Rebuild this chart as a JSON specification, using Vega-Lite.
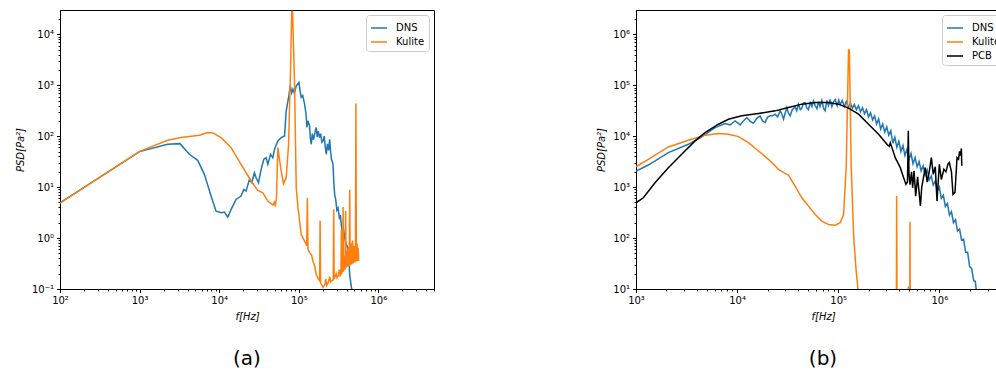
{
  "$schema": "https://vega.github.io/schema/vega-lite/v6.json",
  "padding": {"left": 14, "top": 9, "right": 0, "bottom": 0},
  "background": "white",
  "config": {
    "font": "DejaVu Sans",
    "view": {"stroke": "#000", "strokeWidth": 1},
    "axis": {"grid": false, "labelFont": "DejaVu Sans", "labelFontSize": 10, "labelColor": "#000", "tickColor": "#000", "domainColor": "#000", "titleFont": "DejaVu Sans", "titleFontSize": 10, "titleFontWeight": "normal", "titleFontStyle": "italic", "titleColor": "#000", "labelFlush": false, "labelOverlap": false, "labelBound": false, "labelPadding": 3, "titlePadding": 6},
    "legend": {"orient": "top-right", "offset": 5, "strokeColor": "#ccc", "fillColor": "white", "cornerRadius": 3, "padding": 4, "labelFontSize": 10, "labelFont": "DejaVu Sans", "labelColor": "#000", "symbolType": "stroke", "symbolStrokeWidth": 1.5, "symbolSize": 256, "rowPadding": 0, "labelOffset": 8},
    "title": {"font": "DejaVu Sans", "fontSize": 20, "fontWeight": "normal", "color": "#000"}
  },
  "datasets": {
    "a": [
      {"series": "DNS", "f": 100, "psd": 4.93},
      {"series": "DNS", "f": 1000, "psd": 49.8},
      {"series": "DNS", "f": 2249, "psd": 69.3},
      {"series": "DNS", "f": 3214, "psd": 71.4},
      {"series": "DNS", "f": 4217, "psd": 44.1},
      {"series": "DNS", "f": 5370, "psd": 33.6},
      {"series": "DNS", "f": 6516, "psd": 17.8},
      {"series": "DNS", "f": 7907, "psd": 6.67},
      {"series": "DNS", "f": 9141, "psd": 3.38},
      {"series": "DNS", "f": 10570, "psd": 3.13},
      {"series": "DNS", "f": 11640, "psd": 3.23},
      {"series": "DNS", "f": 12820, "psd": 2.58},
      {"series": "DNS", "f": 14130, "psd": 3.65},
      {"series": "DNS", "f": 16290, "psd": 5.74},
      {"series": "DNS", "f": 18840, "psd": 6.67},
      {"series": "DNS", "f": 20370, "psd": 9.02},
      {"series": "DNS", "f": 21780, "psd": 8.37},
      {"series": "DNS", "f": 23990, "psd": 14.2},
      {"series": "DNS", "f": 25650, "psd": 12.2},
      {"series": "DNS", "f": 27730, "psd": 19.2},
      {"series": "DNS", "f": 29110, "psd": 15.3},
      {"series": "DNS", "f": 31190, "psd": 12.2},
      {"series": "DNS", "f": 33650, "psd": 22.3},
      {"series": "DNS", "f": 36390, "psd": 35.2},
      {"series": "DNS", "f": 38900, "psd": 37.9},
      {"series": "DNS", "f": 40830, "psd": 28.0},
      {"series": "DNS", "f": 44160, "psd": 44.1},
      {"series": "DNS", "f": 47210, "psd": 37.9},
      {"series": "DNS", "f": 49550, "psd": 55.3},
      {"series": "DNS", "f": 54580, "psd": 80.7},
      {"series": "DNS", "f": 60120, "psd": 93.8},
      {"series": "DNS", "f": 66220, "psd": 101},
      {"series": "DNS", "f": 69500, "psd": 314},
      {"series": "DNS", "f": 74470, "psd": 575},
      {"series": "DNS", "f": 78160, "psd": 977},
      {"series": "DNS", "f": 81280, "psd": 708},
      {"series": "DNS", "f": 84330, "psd": 839},
      {"series": "DNS", "f": 88100, "psd": 692},
      {"series": "DNS", "f": 92900, "psd": 977},
      {"series": "DNS", "f": 100500, "psd": 1135},
      {"series": "DNS", "f": 103500, "psd": 794},
      {"series": "DNS", "f": 107400, "psd": 575},
      {"series": "DNS", "f": 112200, "psd": 631},
      {"series": "DNS", "f": 118300, "psd": 426},
      {"series": "DNS", "f": 123000, "psd": 282},
      {"series": "DNS", "f": 126500, "psd": 148},
      {"series": "DNS", "f": 130300, "psd": 200},
      {"series": "DNS", "f": 136800, "psd": 159},
      {"series": "DNS", "f": 140000, "psd": 89.1},
      {"series": "DNS", "f": 143600, "psd": 69.3},
      {"series": "DNS", "f": 147900, "psd": 112},
      {"series": "DNS", "f": 153100, "psd": 85.1},
      {"series": "DNS", "f": 158100, "psd": 109},
      {"series": "DNS", "f": 162200, "psd": 132},
      {"series": "DNS", "f": 166000, "psd": 148},
      {"series": "DNS", "f": 170600, "psd": 95.5},
      {"series": "DNS", "f": 175800, "psd": 126},
      {"series": "DNS", "f": 182800, "psd": 93.8},
      {"series": "DNS", "f": 188400, "psd": 112},
      {"series": "DNS", "f": 195000, "psd": 75.9},
      {"series": "DNS", "f": 201400, "psd": 80.7},
      {"series": "DNS", "f": 208900, "psd": 100},
      {"series": "DNS", "f": 215300, "psd": 60.3},
      {"series": "DNS", "f": 221800, "psd": 44.1},
      {"series": "DNS", "f": 229100, "psd": 70.8},
      {"series": "DNS", "f": 237100, "psd": 52.5},
      {"series": "DNS", "f": 244300, "psd": 87.1},
      {"series": "DNS", "f": 251200, "psd": 50.1},
      {"series": "DNS", "f": 257000, "psd": 35.5},
      {"series": "DNS", "f": 269200, "psd": 28.0},
      {"series": "DNS", "f": 275400, "psd": 12.6},
      {"series": "DNS", "f": 282500, "psd": 7.19},
      {"series": "DNS", "f": 291700, "psd": 5.62},
      {"series": "DNS", "f": 300600, "psd": 3.55},
      {"series": "DNS", "f": 311200, "psd": 3.93},
      {"series": "DNS", "f": 323600, "psd": 2.51},
      {"series": "DNS", "f": 333400, "psd": 2.82},
      {"series": "DNS", "f": 342800, "psd": 1.78},
      {"series": "DNS", "f": 354800, "psd": 1.26},
      {"series": "DNS", "f": 367300, "psd": 1.41},
      {"series": "DNS", "f": 377600, "psd": 1.01},
      {"series": "DNS", "f": 389000, "psd": 0.794},
      {"series": "DNS", "f": 402700, "psd": 0.708},
      {"series": "DNS", "f": 415900, "psd": 0.641},
      {"series": "DNS", "f": 426600, "psd": 0.355},
      {"series": "DNS", "f": 436500, "psd": 0.191},
      {"series": "DNS", "f": 451900, "psd": 0.126},
      {"series": "DNS", "f": 466700, "psd": 0.0891},
      {"series": "DNS", "f": 489800, "psd": 0.0316},
      {"series": "Kulite", "f": 100, "psd": 4.85},
      {"series": "Kulite", "f": 1000, "psd": 50.5},
      {"series": "Kulite", "f": 2249, "psd": 83.2},
      {"series": "Kulite", "f": 3311, "psd": 93.8},
      {"series": "Kulite", "f": 5636, "psd": 104},
      {"series": "Kulite", "f": 7178, "psd": 118},
      {"series": "Kulite", "f": 8299, "psd": 116},
      {"series": "Kulite", "f": 10570, "psd": 93.8},
      {"series": "Kulite", "f": 14130, "psd": 59.7},
      {"series": "Kulite", "f": 18840, "psd": 28.0},
      {"series": "Kulite", "f": 25180, "psd": 13.2},
      {"series": "Kulite", "f": 30550, "psd": 8.63},
      {"series": "Kulite", "f": 35320, "psd": 7.76},
      {"series": "Kulite", "f": 40830, "psd": 5.32},
      {"series": "Kulite", "f": 47210, "psd": 4.44},
      {"series": "Kulite", "f": 49550, "psd": 5.08},
      {"series": "Kulite", "f": 50700, "psd": 4.17},
      {"series": "Kulite", "f": 52480, "psd": 6.18},
      {"series": "Kulite", "f": 54580, "psd": 59.7},
      {"series": "Kulite", "f": 60120, "psd": 20.7},
      {"series": "Kulite", "f": 64270, "psd": 11.7},
      {"series": "Kulite", "f": 69500, "psd": 15.3},
      {"series": "Kulite", "f": 74470, "psd": 69.3},
      {"series": "Kulite", "f": 78890, "psd": 2239},
      {"series": "Kulite", "f": 81660, "psd": 28180},
      {"series": "Kulite", "f": 83560, "psd": 28180},
      {"series": "Kulite", "f": 88510, "psd": 1047},
      {"series": "Kulite", "f": 92900, "psd": 9.73},
      {"series": "Kulite", "f": 97700, "psd": 3.98},
      {"series": "Kulite", "f": 107400, "psd": 1.175},
      {"series": "Kulite", "f": 118300, "psd": 0.871},
      {"series": "Kulite", "f": 125900, "psd": 0.708},
      {"series": "Kulite", "f": 128200, "psd": 6.17},
      {"series": "Kulite", "f": 130600, "psd": 0.603},
      {"series": "Kulite", "f": 136800, "psd": 0.513},
      {"series": "Kulite", "f": 144500, "psd": 0.468},
      {"series": "Kulite", "f": 151000, "psd": 0.351},
      {"series": "Kulite", "f": 158500, "psd": 0.282},
      {"series": "Kulite", "f": 166000, "psd": 0.192},
      {"series": "Kulite", "f": 175800, "psd": 0.158},
      {"series": "Kulite", "f": 182800, "psd": 0.145},
      {"series": "Kulite", "f": 185400, "psd": 2.21},
      {"series": "Kulite", "f": 187900, "psd": 0.132},
      {"series": "Kulite", "f": 201800, "psd": 0.108},
      {"series": "Kulite", "f": 213800, "psd": 0.126},
      {"series": "Kulite", "f": 218800, "psd": 0.158},
      {"series": "Kulite", "f": 223900, "psd": 0.117},
      {"series": "Kulite", "f": 233300, "psd": 0.132},
      {"series": "Kulite", "f": 245500, "psd": 0.174},
      {"series": "Kulite", "f": 251200, "psd": 0.138},
      {"series": "Kulite", "f": 266100, "psd": 0.151},
      {"series": "Kulite", "f": 271000, "psd": 0.151},
      {"series": "Kulite", "f": 274800, "psd": 3.66},
      {"series": "Kulite", "f": 278600, "psd": 0.158},
      {"series": "Kulite", "f": 295100, "psd": 0.2},
      {"series": "Kulite", "f": 302000, "psd": 0.166},
      {"series": "Kulite", "f": 311900, "psd": 0.178},
      {"series": "Kulite", "f": 323600, "psd": 0.24},
      {"series": "Kulite", "f": 331100, "psd": 0.182},
      {"series": "Kulite", "f": 338800, "psd": 0.19},
      {"series": "Kulite", "f": 342800, "psd": 1.48},
      {"series": "Kulite", "f": 347500, "psd": 0.2},
      {"series": "Kulite", "f": 355600, "psd": 0.251},
      {"series": "Kulite", "f": 360600, "psd": 4.07},
      {"series": "Kulite", "f": 365600, "psd": 0.219},
      {"series": "Kulite", "f": 375800, "psd": 0.447},
      {"series": "Kulite", "f": 382800, "psd": 0.24},
      {"series": "Kulite", "f": 388200, "psd": 3.39},
      {"series": "Kulite", "f": 393600, "psd": 0.263},
      {"series": "Kulite", "f": 402700, "psd": 0.562},
      {"series": "Kulite", "f": 412100, "psd": 0.275},
      {"series": "Kulite", "f": 421700, "psd": 0.631},
      {"series": "Kulite", "f": 430500, "psd": 0.282},
      {"series": "Kulite", "f": 436500, "psd": 8.91},
      {"series": "Kulite", "f": 442600, "psd": 0.288},
      {"series": "Kulite", "f": 451900, "psd": 0.794},
      {"series": "Kulite", "f": 462400, "psd": 0.302},
      {"series": "Kulite", "f": 473200, "psd": 0.891},
      {"series": "Kulite", "f": 484200, "psd": 0.316},
      {"series": "Kulite", "f": 495500, "psd": 0.708},
      {"series": "Kulite", "f": 507000, "psd": 0.331},
      {"series": "Kulite", "f": 515200, "psd": 0.562},
      {"series": "Kulite", "f": 522400, "psd": 436},
      {"series": "Kulite", "f": 529700, "psd": 0.347},
      {"series": "Kulite", "f": 539500, "psd": 0.794},
      {"series": "Kulite", "f": 549500, "psd": 0.355},
      {"series": "Kulite", "f": 557200, "psd": 0.646},
      {"series": "Kulite", "f": 566200, "psd": 0.355}
    ],
    "b": [
      {"series": "DNS", "f": 1000, "psd": 2070},
      {"series": "DNS", "f": 1324, "psd": 2716},
      {"series": "DNS", "f": 2089, "psd": 4753},
      {"series": "DNS", "f": 3296, "psd": 6934},
      {"series": "DNS", "f": 4467, "psd": 9683},
      {"series": "DNS", "f": 6053, "psd": 14760},
      {"series": "DNS", "f": 7603, "psd": 17700},
      {"series": "DNS", "f": 8511, "psd": 16600},
      {"series": "DNS", "f": 9550, "psd": 19950},
      {"series": "DNS", "f": 10720, "psd": 16670},
      {"series": "DNS", "f": 11530, "psd": 19950},
      {"series": "DNS", "f": 12470, "psd": 23230},
      {"series": "DNS", "f": 13490, "psd": 19500},
      {"series": "DNS", "f": 14520, "psd": 17990},
      {"series": "DNS", "f": 15670, "psd": 22390},
      {"series": "DNS", "f": 16900, "psd": 25060},
      {"series": "DNS", "f": 17780, "psd": 19950},
      {"series": "DNS", "f": 18920, "psd": 18540},
      {"series": "DNS", "f": 19950, "psd": 23440},
      {"series": "DNS", "f": 21230, "psd": 25060},
      {"series": "DNS", "f": 22390, "psd": 25120},
      {"series": "DNS", "f": 23770, "psd": 27040},
      {"series": "DNS", "f": 25120, "psd": 23990},
      {"series": "DNS", "f": 26670, "psd": 31410},
      {"series": "DNS", "f": 27540, "psd": 28180},
      {"series": "DNS", "f": 28770, "psd": 21530},
      {"series": "DNS", "f": 29850, "psd": 28180},
      {"series": "DNS", "f": 31050, "psd": 36560},
      {"series": "DNS", "f": 32210, "psd": 28180},
      {"series": "DNS", "f": 33500, "psd": 25060},
      {"series": "DNS", "f": 35080, "psd": 33110},
      {"series": "DNS", "f": 37500, "psd": 37670},
      {"series": "DNS", "f": 38900, "psd": 31620},
      {"series": "DNS", "f": 40460, "psd": 42560},
      {"series": "DNS", "f": 42170, "psd": 33110},
      {"series": "DNS", "f": 43650, "psd": 35480},
      {"series": "DNS", "f": 45190, "psd": 44670},
      {"series": "DNS", "f": 47100, "psd": 45710},
      {"series": "DNS", "f": 48980, "psd": 35480},
      {"series": "DNS", "f": 50700, "psd": 33110},
      {"series": "DNS", "f": 52840, "psd": 45710},
      {"series": "DNS", "f": 54950, "psd": 38020},
      {"series": "DNS", "f": 56890, "psd": 48980},
      {"series": "DNS", "f": 59160, "psd": 39810},
      {"series": "DNS", "f": 61660, "psd": 34670},
      {"series": "DNS", "f": 63830, "psd": 47860},
      {"series": "DNS", "f": 66070, "psd": 38020},
      {"series": "DNS", "f": 68870, "psd": 50120},
      {"series": "DNS", "f": 71610, "psd": 35480},
      {"series": "DNS", "f": 74300, "psd": 31620},
      {"series": "DNS", "f": 77090, "psd": 50120},
      {"series": "DNS", "f": 80170, "psd": 39810},
      {"series": "DNS", "f": 83180, "psd": 52480},
      {"series": "DNS", "f": 86500, "psd": 38020},
      {"series": "DNS", "f": 90160, "psd": 47860},
      {"series": "DNS", "f": 93330, "psd": 52480},
      {"series": "DNS", "f": 97720, "psd": 39810},
      {"series": "DNS", "f": 101200, "psd": 51290},
      {"series": "DNS", "f": 104700, "psd": 41690},
      {"series": "DNS", "f": 109600, "psd": 50120},
      {"series": "DNS", "f": 114800, "psd": 38020},
      {"series": "DNS", "f": 120200, "psd": 47860},
      {"series": "DNS", "f": 125900, "psd": 36310},
      {"series": "DNS", "f": 131800, "psd": 45710},
      {"series": "DNS", "f": 138000, "psd": 35480},
      {"series": "DNS", "f": 144500, "psd": 41690},
      {"series": "DNS", "f": 151400, "psd": 33110},
      {"series": "DNS", "f": 158500, "psd": 39810},
      {"series": "DNS", "f": 166000, "psd": 30200},
      {"series": "DNS", "f": 173800, "psd": 36310},
      {"series": "DNS", "f": 182000, "psd": 27540},
      {"series": "DNS", "f": 190500, "psd": 33110},
      {"series": "DNS", "f": 199500, "psd": 23990},
      {"series": "DNS", "f": 208900, "psd": 28840},
      {"series": "DNS", "f": 218800, "psd": 20890},
      {"series": "DNS", "f": 229100, "psd": 25120},
      {"series": "DNS", "f": 239900, "psd": 17380},
      {"series": "DNS", "f": 251200, "psd": 21880},
      {"series": "DNS", "f": 263000, "psd": 13800},
      {"series": "DNS", "f": 275400, "psd": 17380},
      {"series": "DNS", "f": 288400, "psd": 12020},
      {"series": "DNS", "f": 302000, "psd": 15140},
      {"series": "DNS", "f": 316200, "psd": 10500},
      {"series": "DNS", "f": 331100, "psd": 12880},
      {"series": "DNS", "f": 346700, "psd": 7244},
      {"series": "DNS", "f": 363100, "psd": 9550},
      {"series": "DNS", "f": 380200, "psd": 6026},
      {"series": "DNS", "f": 398100, "psd": 7943},
      {"series": "DNS", "f": 416900, "psd": 5012},
      {"series": "DNS", "f": 436500, "psd": 6607},
      {"series": "DNS", "f": 457100, "psd": 4169},
      {"series": "DNS", "f": 478600, "psd": 5495},
      {"series": "DNS", "f": 501200, "psd": 3467},
      {"series": "DNS", "f": 524800, "psd": 4571},
      {"series": "DNS", "f": 549500, "psd": 2884},
      {"series": "DNS", "f": 575400, "psd": 3802},
      {"series": "DNS", "f": 602600, "psd": 2512},
      {"series": "DNS", "f": 631000, "psd": 3162},
      {"series": "DNS", "f": 660700, "psd": 2089},
      {"series": "DNS", "f": 691800, "psd": 2630},
      {"series": "DNS", "f": 724400, "psd": 1738},
      {"series": "DNS", "f": 758600, "psd": 2188},
      {"series": "DNS", "f": 794300, "psd": 1380},
      {"series": "DNS", "f": 831800, "psd": 1660},
      {"series": "DNS", "f": 871000, "psd": 1096},
      {"series": "DNS", "f": 912000, "psd": 1318},
      {"series": "DNS", "f": 955000, "psd": 832},
      {"series": "DNS", "f": 1000000, "psd": 1000},
      {"series": "DNS", "f": 1047000, "psd": 603},
      {"series": "DNS", "f": 1096000, "psd": 692},
      {"series": "DNS", "f": 1148000, "psd": 417},
      {"series": "DNS", "f": 1202000, "psd": 479},
      {"series": "DNS", "f": 1259000, "psd": 282},
      {"series": "DNS", "f": 1318000, "psd": 331},
      {"series": "DNS", "f": 1380000, "psd": 200},
      {"series": "DNS", "f": 1445000, "psd": 229},
      {"series": "DNS", "f": 1514000, "psd": 138},
      {"series": "DNS", "f": 1585000, "psd": 151},
      {"series": "DNS", "f": 1660000, "psd": 91.2},
      {"series": "DNS", "f": 1738000, "psd": 95.5},
      {"series": "DNS", "f": 1820000, "psd": 52.5},
      {"series": "DNS", "f": 1905000, "psd": 52.5},
      {"series": "DNS", "f": 1995000, "psd": 27.5},
      {"series": "DNS", "f": 2089000, "psd": 25.1},
      {"series": "DNS", "f": 2188000, "psd": 14.5},
      {"series": "DNS", "f": 2270000, "psd": 14.1},
      {"series": "DNS", "f": 2344000, "psd": 7.94},
      {"series": "DNS", "f": 2399000, "psd": 8.91},
      {"series": "DNS", "f": 2455000, "psd": 5.01},
      {"series": "Kulite", "f": 1000, "psd": 2512},
      {"series": "Kulite", "f": 1324, "psd": 3516},
      {"series": "Kulite", "f": 2089, "psd": 6152},
      {"series": "Kulite", "f": 3296, "psd": 8318},
      {"series": "Kulite", "f": 4819, "psd": 10420},
      {"series": "Kulite", "f": 6531, "psd": 11250},
      {"series": "Kulite", "f": 8204, "psd": 10910},
      {"series": "Kulite", "f": 10300, "psd": 9817},
      {"series": "Kulite", "f": 12940, "psd": 7482},
      {"series": "Kulite", "f": 16260, "psd": 5129},
      {"series": "Kulite", "f": 20420, "psd": 3516},
      {"series": "Kulite", "f": 25650, "psd": 2234},
      {"series": "Kulite", "f": 29850, "psd": 1862},
      {"series": "Kulite", "f": 32210, "psd": 1730},
      {"series": "Kulite", "f": 37500, "psd": 1050},
      {"series": "Kulite", "f": 43650, "psd": 618},
      {"series": "Kulite", "f": 50820, "psd": 424},
      {"series": "Kulite", "f": 59160, "psd": 290},
      {"series": "Kulite", "f": 68870, "psd": 215},
      {"series": "Kulite", "f": 80170, "psd": 185},
      {"series": "Kulite", "f": 93330, "psd": 179},
      {"series": "Kulite", "f": 104700, "psd": 200},
      {"series": "Kulite", "f": 113000, "psd": 290},
      {"series": "Kulite", "f": 119900, "psd": 2410},
      {"series": "Kulite", "f": 123600, "psd": 49430},
      {"series": "Kulite", "f": 126500, "psd": 489800},
      {"series": "Kulite", "f": 128800, "psd": 489800},
      {"series": "Kulite", "f": 134600, "psd": 2410},
      {"series": "Kulite", "f": 141900, "psd": 117},
      {"series": "Kulite", "f": 149600, "psd": 25.9},
      {"series": "Kulite", "f": 156700, "psd": 10},
      {"series": "Kulite", "f": 166000, "psd": 2},
      {"series": "Kulite", "f": 375800, "psd": 2},
      {"series": "Kulite", "f": 378400, "psd": 667},
      {"series": "Kulite", "f": 381900, "psd": 2},
      {"series": "Kulite", "f": 489800, "psd": 2},
      {"series": "Kulite", "f": 493200, "psd": 11.2},
      {"series": "Kulite", "f": 497700, "psd": 2},
      {"series": "Kulite", "f": 509300, "psd": 2},
      {"series": "Kulite", "f": 512900, "psd": 208},
      {"series": "Kulite", "f": 516400, "psd": 2},
      {"series": "Kulite", "f": 631000, "psd": 2},
      {"series": "PCB", "f": 1000, "psd": 493},
      {"series": "PCB", "f": 1183, "psd": 618},
      {"series": "PCB", "f": 1542, "psd": 1222},
      {"series": "PCB", "f": 2089, "psd": 2410},
      {"series": "PCB", "f": 2831, "psd": 4406},
      {"series": "PCB", "f": 3837, "psd": 8072},
      {"series": "PCB", "f": 4819, "psd": 11780},
      {"series": "PCB", "f": 6531, "psd": 17180},
      {"series": "PCB", "f": 8204, "psd": 21530},
      {"series": "PCB", "f": 11120, "psd": 25060},
      {"series": "PCB", "f": 16260, "psd": 27860},
      {"series": "PCB", "f": 23770, "psd": 31410},
      {"series": "PCB", "f": 32210, "psd": 36560},
      {"series": "PCB", "f": 43650, "psd": 42560},
      {"series": "PCB", "f": 59160, "psd": 45810},
      {"series": "PCB", "f": 80170, "psd": 45810},
      {"series": "PCB", "f": 100700, "psd": 42560},
      {"series": "PCB", "f": 126500, "psd": 35480},
      {"series": "PCB", "f": 158900, "psd": 27040},
      {"series": "PCB", "f": 199500, "psd": 17180},
      {"series": "PCB", "f": 250600, "psd": 10910},
      {"series": "PCB", "f": 303400, "psd": 6934},
      {"series": "PCB", "f": 319900, "psd": 6310},
      {"series": "PCB", "f": 327300, "psd": 7413},
      {"series": "PCB", "f": 339600, "psd": 6026},
      {"series": "PCB", "f": 366400, "psd": 3793},
      {"series": "PCB", "f": 411100, "psd": 2410},
      {"series": "PCB", "f": 443600, "psd": 1531},
      {"series": "PCB", "f": 467700, "psd": 1132},
      {"series": "PCB", "f": 484200, "psd": 1259},
      {"series": "PCB", "f": 493200, "psd": 12710},
      {"series": "PCB", "f": 501200, "psd": 1778},
      {"series": "PCB", "f": 512900, "psd": 1122},
      {"series": "PCB", "f": 530900, "psd": 1995},
      {"series": "PCB", "f": 544500, "psd": 973},
      {"series": "PCB", "f": 562300, "psd": 2089},
      {"series": "PCB", "f": 583400, "psd": 667},
      {"series": "PCB", "f": 609500, "psd": 1585},
      {"series": "PCB", "f": 650000, "psd": 427},
      {"series": "PCB", "f": 670000, "psd": 1000},
      {"series": "PCB", "f": 691800, "psd": 1413},
      {"series": "PCB", "f": 726100, "psd": 2410},
      {"series": "PCB", "f": 758600, "psd": 1259},
      {"series": "PCB", "f": 794300, "psd": 1995},
      {"series": "PCB", "f": 833700, "psd": 3793},
      {"series": "PCB", "f": 871000, "psd": 1778},
      {"series": "PCB", "f": 912000, "psd": 2512},
      {"series": "PCB", "f": 948400, "psd": 532},
      {"series": "PCB", "f": 1000000, "psd": 2805},
      {"series": "PCB", "f": 1047000, "psd": 1413},
      {"series": "PCB", "f": 1109000, "psd": 2239},
      {"series": "PCB", "f": 1161000, "psd": 1995},
      {"series": "PCB", "f": 1216000, "psd": 2818},
      {"series": "PCB", "f": 1256000, "psd": 3020},
      {"series": "PCB", "f": 1318000, "psd": 1995},
      {"series": "PCB", "f": 1365000, "psd": 719},
      {"series": "PCB", "f": 1429000, "psd": 794},
      {"series": "PCB", "f": 1496000, "psd": 3793},
      {"series": "PCB", "f": 1549000, "psd": 3548},
      {"series": "PCB", "f": 1585000, "psd": 5012},
      {"series": "PCB", "f": 1622000, "psd": 4169},
      {"series": "PCB", "f": 1652000, "psd": 5754},
      {"series": "PCB", "f": 1667000, "psd": 2630}
    ]
  },
  "spacing": 161,
  "resolve": {"scale": {"x": "independent", "y": "independent", "color": "independent"}, "legend": {"color": "independent"}, "axis": {"x": "independent", "y": "independent"}},
  "hconcat": [
    {
      "width": 374,
      "height": 279,
      "title": {"text": "(a)", "orient": "bottom", "offset": 27},
      "data": {"name": "a"},
      "mark": {"type": "line", "clip": true, "strokeWidth": 1.5},
      "encoding": {
        "x": {
          "field": "f", "type": "quantitative",
          "scale": {"type": "log", "domain": [100, 5000000], "nice": false},
          "axis": {
            "title": "f[Hz]",
            "values": [100,200,300,400,500,600,700,800,900,1000,2000,3000,4000,5000,6000,7000,8000,9000,10000,20000,30000,40000,50000,60000,70000,80000,90000,100000,200000,300000,400000,500000,600000,700000,800000,900000,1000000,2000000,3000000,4000000,5000000],
            "labelExpr": "abs(log(datum.value)/LN10 - round(log(datum.value)/LN10)) < 0.01 ? '10' + (round(log(datum.value)/LN10) < 0 ? '⁻' : '') + ['⁰','¹','²','³','⁴','⁵','⁶','⁷'][abs(round(log(datum.value)/LN10))] : ''",
            "tickSize": {"condition": {"test": "abs(log(datum.value)/LN10 - round(log(datum.value)/LN10)) < 0.01", "value": 3.5}, "value": 2}
          }
        },
        "y": {
          "field": "psd", "type": "quantitative",
          "scale": {"type": "log", "domain": [0.1, 30000], "nice": false},
          "axis": {
            "title": "PSD[Pa²]",
            "values": [0.1,0.2,0.3,0.4,0.5,0.6,0.7,0.8,0.9,1,2,3,4,5,6,7,8,9,10,20,30,40,50,60,70,80,90,100,200,300,400,500,600,700,800,900,1000,2000,3000,4000,5000,6000,7000,8000,9000,10000,20000],
            "labelExpr": "abs(log(datum.value)/LN10 - round(log(datum.value)/LN10)) < 0.01 ? '10' + (round(log(datum.value)/LN10) < 0 ? '⁻' : '') + ['⁰','¹','²','³','⁴','⁵','⁶','⁷'][abs(round(log(datum.value)/LN10))] : ''",
            "tickSize": {"condition": {"test": "abs(log(datum.value)/LN10 - round(log(datum.value)/LN10)) < 0.01", "value": 3.5}, "value": 2}
          }
        },
        "color": {
          "field": "series", "type": "nominal",
          "scale": {"domain": ["DNS", "Kulite"], "range": ["#1f77b4", "#ff7f0e"]},
          "legend": {"title": null}
        }
      }
    },
    {
      "width": 374,
      "height": 279,
      "title": {"text": "(b)", "orient": "bottom", "offset": 27},
      "data": {"name": "b"},
      "mark": {"type": "line", "clip": true, "strokeWidth": 1.5},
      "encoding": {
        "x": {
          "field": "f", "type": "quantitative",
          "scale": {"type": "log", "domain": [1000, 5000000], "nice": false},
          "axis": {
            "title": "f[Hz]",
            "values": [1000,2000,3000,4000,5000,6000,7000,8000,9000,10000,20000,30000,40000,50000,60000,70000,80000,90000,100000,200000,300000,400000,500000,600000,700000,800000,900000,1000000,2000000,3000000,4000000,5000000],
            "labelExpr": "abs(log(datum.value)/LN10 - round(log(datum.value)/LN10)) < 0.01 ? '10' + (round(log(datum.value)/LN10) < 0 ? '⁻' : '') + ['⁰','¹','²','³','⁴','⁵','⁶','⁷'][abs(round(log(datum.value)/LN10))] : ''",
            "tickSize": {"condition": {"test": "abs(log(datum.value)/LN10 - round(log(datum.value)/LN10)) < 0.01", "value": 3.5}, "value": 2}
          }
        },
        "y": {
          "field": "psd", "type": "quantitative",
          "scale": {"type": "log", "domain": [10, 3000000], "nice": false},
          "axis": {
            "title": "PSD[Pa²]",
            "values": [10,20,30,40,50,60,70,80,90,100,200,300,400,500,600,700,800,900,1000,2000,3000,4000,5000,6000,7000,8000,9000,10000,20000,30000,40000,50000,60000,70000,80000,90000,100000,200000,300000,400000,500000,600000,700000,800000,900000,1000000,2000000],
            "labelExpr": "abs(log(datum.value)/LN10 - round(log(datum.value)/LN10)) < 0.01 ? '10' + (round(log(datum.value)/LN10) < 0 ? '⁻' : '') + ['⁰','¹','²','³','⁴','⁵','⁶','⁷'][abs(round(log(datum.value)/LN10))] : ''",
            "tickSize": {"condition": {"test": "abs(log(datum.value)/LN10 - round(log(datum.value)/LN10)) < 0.01", "value": 3.5}, "value": 2}
          }
        },
        "color": {
          "field": "series", "type": "nominal",
          "scale": {"domain": ["DNS", "Kulite", "PCB"], "range": ["#1f77b4", "#ff7f0e", "#000000"]},
          "legend": {"title": null}
        }
      }
    }
  ]
}
